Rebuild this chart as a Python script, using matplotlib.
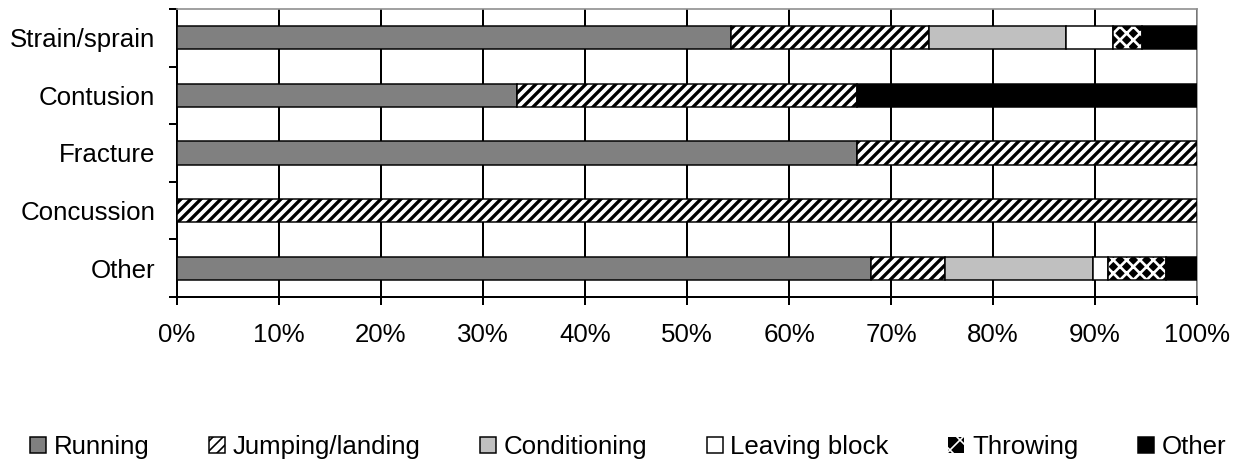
import matplotlib
matplotlib.use("Agg")
import matplotlib.pyplot as plt
from matplotlib.patches import Rectangle
import numpy as np

plt.rcParams['font.family'] = ['Liberation Sans', 'DejaVu Sans']

categories = ["Strain/sprain", "Contusion", "Fracture", "Concussion", "Other"]
running = [54.3, 33.3, 66.7, 0.0, 68.0]
jumping = [19.4, 33.4, 33.3, 100.0, 7.3]
conditioning = [13.5, 0.0, 0.0, 0.0, 14.5]
leaving = [4.6, 0.0, 0.0, 0.0, 1.5]
throwing = [2.8, 0.0, 0.0, 0.0, 5.7]
other = [5.4, 33.3, 0.0, 0.0, 3.0]
series_names = ["Running", "Jumping/landing", "Conditioning", "Leaving block", "Throwing", "Other"]
xticks = [0, 10, 20, 30, 40, 50, 60, 70, 80, 90, 100]

DPI = 120
FS = 15.5
fig = plt.figure(figsize=(1245 / DPI, 464 / DPI), dpi=DPI)
ax = fig.add_axes([177 / 1245, 1 - 297 / 464, 1020 / 1245, 288 / 464])

y = np.arange(len(categories))
h = 0.4
lw = 0.9
series = [running, jumping, conditioning, leaving, throwing, other]
left = np.zeros(len(categories))

styles = [
    dict(facecolor="#808080", edgecolor="black", hatch=None),
    dict(facecolor="white", edgecolor="black", hatch="////"),
    dict(facecolor="#C0C0C0", edgecolor="black", hatch=None),
    dict(facecolor="white", edgecolor="black", hatch=None),
    None,
    dict(facecolor="black", edgecolor="black", hatch=None),
]

for i, vals in enumerate(series):
    vals = np.array(vals)
    mask = vals > 0
    if i == 4:
        with plt.rc_context({'hatch.linewidth': 1.6}):
            ax.barh(y[mask], vals[mask], left=left[mask], height=h,
                    facecolor="black", edgecolor="white", hatch="xxx", linewidth=0, zorder=3)
        ax.barh(y[mask], vals[mask], left=left[mask], height=h,
                fill=False, edgecolor="black", linewidth=lw, zorder=4)
    else:
        st = styles[i]
        with plt.rc_context({'hatch.linewidth': 2.0}):
            ax.barh(y[mask], vals[mask], left=left[mask], height=h,
                    facecolor=st["facecolor"], edgecolor=st["edgecolor"],
                    hatch=st["hatch"], linewidth=lw, zorder=3)
    left = left + vals

ax.set_xlim(0, 100)
ax.set_ylim(len(categories) - 0.5, -0.5)
ax.set_xticks(xticks)
ax.set_xticklabels([f"{t}%" for t in xticks])
ax.set_yticks(y)
ax.set_yticklabels(categories)
ax.set_yticks(np.arange(-0.5, len(categories), 1.0), minor=True)

ax.tick_params(axis='y', which='major', length=0, pad=13, labelsize=FS)
ax.tick_params(axis='y', which='minor', length=4.8, width=1.2, color='black')
ax.tick_params(axis='x', which='major', length=4.8, width=1.2, pad=11, labelsize=FS)

ax.grid(axis='x', color='black', linewidth=1.2, zorder=0)
ax.set_axisbelow(True)
for s in ['left', 'bottom']:
    ax.spines[s].set_color('black')
    ax.spines[s].set_linewidth(1.2)
for s in ['top', 'right']:
    ax.spines[s].set_color('#909090')
    ax.spines[s].set_linewidth(1.0)

# legend
handles = []
for i, name in enumerate(series_names):
    if i == 4:
        with plt.rc_context({'hatch.linewidth': 1.6}):
            handles.append(Rectangle((0, 0), 1, 1, facecolor="black", edgecolor="white",
                                     hatch="xx", linewidth=0))
    else:
        st = styles[i]
        with plt.rc_context({'hatch.linewidth': 2.0}):
            handles.append(Rectangle((0, 0), 1, 1, facecolor=st["facecolor"],
                                     edgecolor=st["edgecolor"], hatch=st["hatch"], linewidth=lw))
leg = fig.legend(handles, series_names, loc='center', bbox_to_anchor=(628 / 1245, 1 - 447 / 464),
                 ncol=6, frameon=False, fontsize=FS, handlelength=0.62, handleheight=0.62,
                 handletextpad=0.3, columnspacing=2.3, borderpad=0)

fig.savefig("out.png", dpi=DPI)
